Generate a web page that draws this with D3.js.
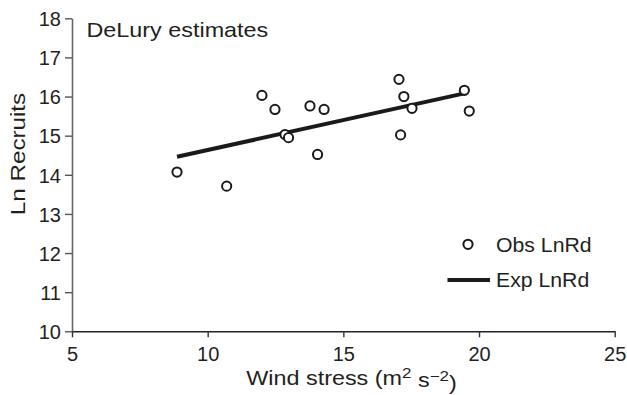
<!DOCTYPE html>
<html>
<head>
<meta charset="utf-8">
<script src="https://cdn.jsdelivr.net/npm/d3@7/dist/d3.min.js"></script>
<style>
  html, body { margin: 0; padding: 0; background: #fff; }
  svg { display: block; }
  text { font-family: "Liberation Sans", Arial, Helvetica, sans-serif; fill: #231f20; }
</style>
</head>
<body>
<svg id="chart" width="627" height="395"></svg>
<script>
// Observed recruitment (log scale) against wind stress
const windStress = [8.87, 10.70, 12.00, 12.48, 12.85, 12.98, 13.77, 14.05, 14.29, 17.05, 17.11, 17.23, 17.53, 19.46, 19.64];
const obsLnRd    = [14.07, 13.71, 16.03, 15.67, 15.03, 14.95, 15.76, 14.52, 15.67, 16.44, 15.02, 16.00, 15.70, 16.16, 15.63];

// Fitted line end points
const expWind = [8.87, 19.46];
const expLnRd = [14.46, 16.08];

const xTicks = [5, 10, 15, 20, 25];
const yTicks = [10, 11, 12, 13, 14, 15, 16, 17, 18];

const svg = d3.select("#chart");
const ink = "#231f20";

const x = d3.scaleLinear().domain([5, 25]).range([72, 614.7]);
const y = d3.scaleLinear().domain([10, 18]).range([331.3, 18.3]);

// Y axis
const yAxis = svg.append("g")
  .attr("transform", `translate(${x(5)},0)`)
  .call(d3.axisLeft(y).tickValues(yTicks).tickSize(7).tickPadding(4).tickSizeOuter(0));
yAxis.select(".domain").attr("stroke", "#666").attr("stroke-width", 1.6);
yAxis.selectAll(".tick line").attr("stroke", "#555").attr("stroke-width", 1.4);
yAxis.selectAll(".tick text").style("font-size", "20px").attr("fill", ink).attr("dy", "0.36em");

// X axis
const xAxis = svg.append("g")
  .attr("transform", `translate(0,${y(10)})`)
  .call(d3.axisBottom(x).tickValues(xTicks).tickSize(6).tickPadding(10).tickSizeOuter(0));
xAxis.select(".domain").attr("stroke", "#222").attr("stroke-width", 1.6);
xAxis.selectAll(".tick line").attr("stroke", "#333").attr("stroke-width", 1.4);
xAxis.selectAll(".tick text").style("font-size", "20px").attr("fill", ink);

// Axis titles (slightly widened lettering)
const xt = svg.append("text")
  .attr("transform", "translate(351.5,385) scale(1.17,1)")
  .attr("text-anchor", "middle")
  .style("font-size", "20px");
xt.append("tspan").text("Wind stress (m");
xt.append("tspan").text("2").attr("dy", "-0.45em").style("font-size", "14.5px");
xt.append("tspan").text(" s").attr("dy", "0.45em");
xt.append("tspan").text("\u22122").attr("dy", "-0.45em").style("font-size", "14.5px");
xt.append("tspan").text(")").attr("dy", "0.45em");

svg.append("text")
  .attr("transform", "translate(25,154) rotate(-90) scale(1.18,1)")
  .attr("text-anchor", "middle")
  .style("font-size", "20.5px")
  .text("Ln Recruits");

// Panel title
svg.append("text")
  .attr("transform", "translate(86.5,37) scale(1.14,1)")
  .style("font-size", "20.5px")
  .text("DeLury estimates");

// Fitted line
const line = d3.line().x(d => x(d[0])).y(d => y(d[1]));
svg.append("path")
  .datum(expWind.map((w, i) => [w, expLnRd[i]]))
  .attr("d", line)
  .attr("fill", "none")
  .attr("stroke", "#1a1a1a")
  .attr("stroke-width", 4);

// Observed points
svg.append("g").selectAll("circle")
  .data(windStress.map((w, i) => [w, obsLnRd[i]]))
  .join("circle")
  .attr("cx", d => x(d[0]))
  .attr("cy", d => y(d[1]))
  .attr("r", 4.6)
  .attr("fill", "#fff")
  .attr("stroke", "#1a1a1a")
  .attr("stroke-width", 2);

// Legend
const lg = svg.append("g");
lg.append("circle").attr("cx", 468).attr("cy", 244.3).attr("r", 4.6)
  .attr("fill", "#fff").attr("stroke", "#1a1a1a").attr("stroke-width", 2);
lg.append("text").attr("transform", "translate(496,251.7) scale(1.09,1)")
  .style("font-size", "19.5px").text("Obs LnRd");
lg.append("line").attr("x1", 447.5).attr("x2", 490).attr("y1", 280).attr("y2", 280)
  .attr("stroke", "#1a1a1a").attr("stroke-width", 4);
lg.append("text").attr("transform", "translate(496,286.7) scale(1.09,1)")
  .style("font-size", "19.5px").text("Exp LnRd");
</script>
</body>
</html>
